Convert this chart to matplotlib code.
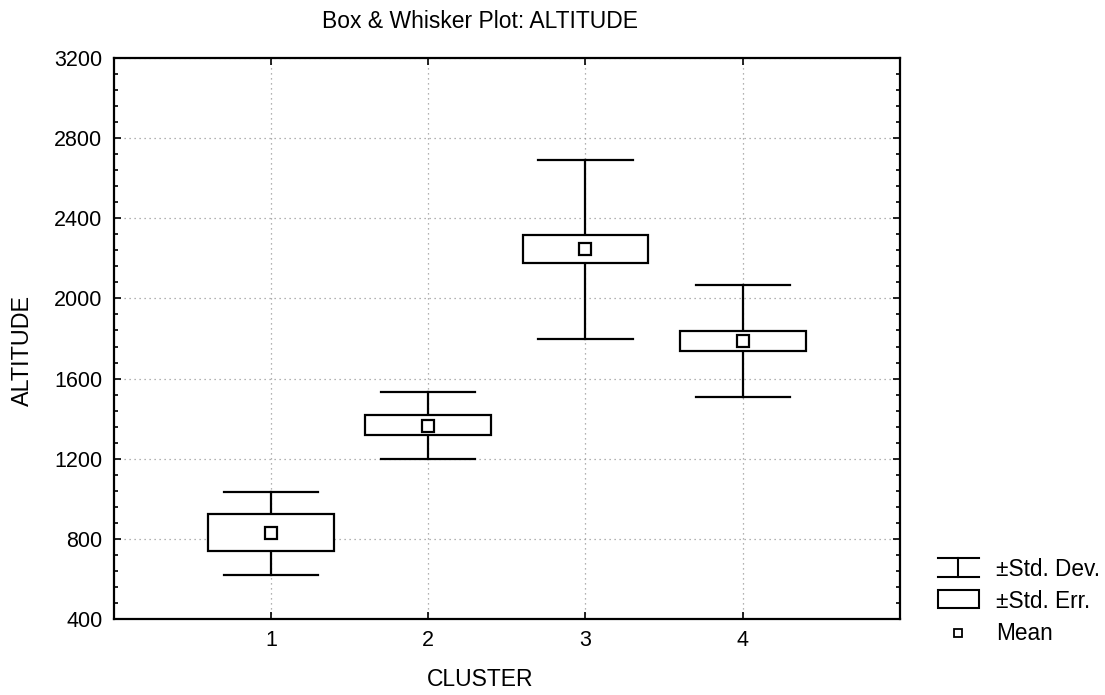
import matplotlib
matplotlib.use("Agg")
import matplotlib.pyplot as plt
from matplotlib.patches import Rectangle
from matplotlib.lines import Line2D
from matplotlib.ticker import MultipleLocator

plt.rcParams['font.family'] = ['Liberation Sans', 'DejaVu Sans']

clusters = [1, 2, 3, 4]
means = [827, 1365, 2245, 1787]
se_low = [738, 1317, 2178, 1740]
se_high = [923, 1417, 2315, 1837]
sd_low = [620, 1200, 1798, 1508]
sd_high = [1036, 1533, 2693, 2067]
yticks = [400, 800, 1200, 1600, 2000, 2400, 2800, 3200]
xticks = [1, 2, 3, 4]

W, H = 1105, 695
fig = plt.figure(figsize=(W / 100, H / 100), dpi=100)
ax = fig.add_axes([113.6 / W, 1 - 619 / H, (900 - 113.6) / W, (619 - 58) / H])

lw = 1.6
box_half = 0.4
cap_half = 0.3
for x, m, lo, hi, dlo, dhi in zip(clusters, means, se_low, se_high, sd_low, sd_high):
    ax.plot([x, x], [hi, dhi], color='black', lw=lw, zorder=3)
    ax.plot([x, x], [dlo, lo], color='black', lw=lw, zorder=3)
    ax.plot([x - cap_half, x + cap_half], [dhi, dhi], color='black', lw=lw, zorder=3)
    ax.plot([x - cap_half, x + cap_half], [dlo, dlo], color='black', lw=lw, zorder=3)
    ax.add_patch(Rectangle((x - box_half, lo), 2 * box_half, hi - lo,
                           facecolor='white', edgecolor='black', lw=lw, zorder=3))
ax.plot(clusters, means, linestyle='none', marker='s', markersize=8.5,
        markerfacecolor='white', markeredgecolor='black', markeredgewidth=1.6, zorder=4)

ax.set_xlim(0, 5)
ax.set_ylim(400, 3200)
ax.set_xticks(xticks)
ax.set_xticklabels([str(c) for c in xticks])
ax.set_yticks(yticks)
ax.yaxis.set_minor_locator(MultipleLocator(80))
ax.tick_params(axis='both', which='both', direction='in', top=True, right=True,
               labelsize=15.5, width=1.2, color='black')
ax.tick_params(axis='both', which='major', length=5, pad=8)
ax.tick_params(axis='y', which='minor', length=3)
ax.tick_params(axis='x', which='minor', bottom=False, top=False)
for s in ax.spines.values():
    s.set_linewidth(1.6)
ax.grid(True, which='major', linestyle=(0, (1, 3)), color='#999999', lw=0.9)
ax.set_axisbelow(True)

fig.text(480 / W, 1 - 22 / H, 'Box & Whisker Plot: ALTITUDE', ha='center', va='center', fontsize=16.5)
fig.text(480 / W, 1 - 680 / H, 'CLUSTER', ha='center', va='center', fontsize=16.5)
fig.text(22 / W, 1 - 350 / H, 'ALTITUDE', ha='center', va='center', rotation=90, fontsize=16.8)

# legend (figure pixel coordinates)
def fx(px):
    return px / W

def fy(py):
    return 1 - py / H

lk = dict(color='black', lw=1.5, transform=fig.transFigure)
fig.add_artist(Line2D([fx(938), fx(979)], [fy(558), fy(558)], **lk))
fig.add_artist(Line2D([fx(938), fx(979)], [fy(577), fy(577)], **lk))
fig.add_artist(Line2D([fx(958), fx(958)], [fy(558), fy(577)], **lk))
fig.add_artist(Rectangle((fx(938), fy(608)), fx(979) - fx(938), fy(590) - fy(608),
                         transform=fig.transFigure, facecolor='none', edgecolor='black', lw=1.5))
fig.add_artist(Line2D([fx(958)], [fy(633)], marker='s', markersize=6, markerfacecolor='white',
                      markeredgecolor='black', markeredgewidth=1.3, linestyle='none',
                      transform=fig.transFigure))
fig.text(fx(996), fy(569), '±Std. Dev.', ha='left', va='center', fontsize=16.3)
fig.text(fx(996), fy(601), '±Std. Err.', ha='left', va='center', fontsize=16.3)
fig.text(fx(996), fy(633), 'Mean', ha='left', va='center', fontsize=16.3)

fig.savefig('out.png', dpi=100)
